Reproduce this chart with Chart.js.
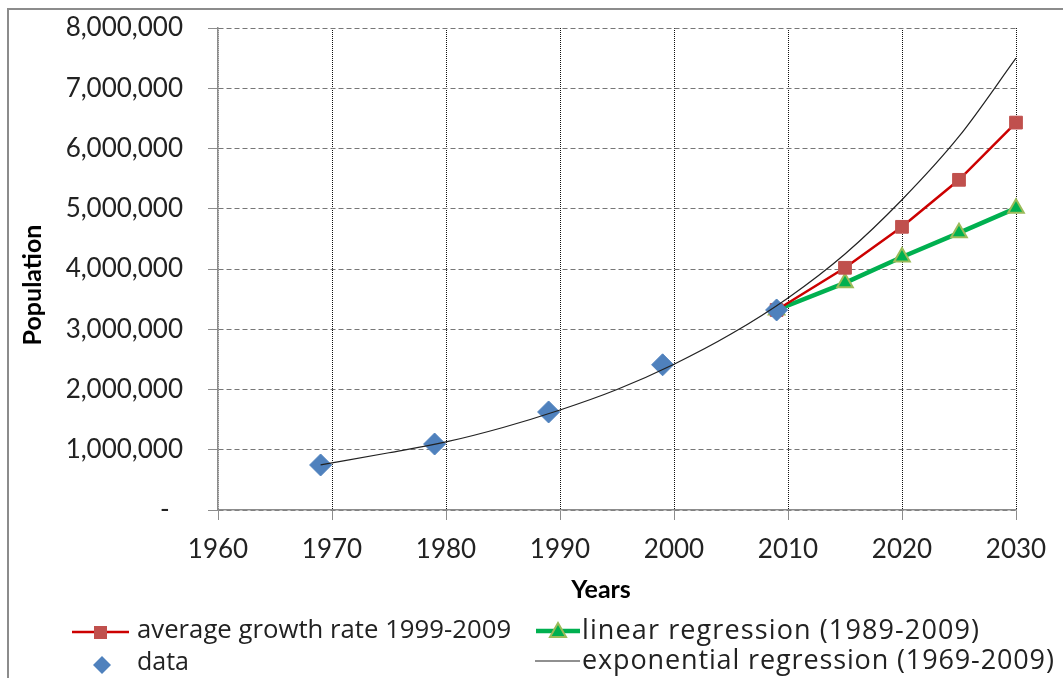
<!DOCTYPE html>
<html>
<head>
<meta charset="utf-8">
<script src="https://cdn.jsdelivr.net/npm/chart.js@4/dist/chart.umd.min.js"></script>
<style>
  html, body { margin: 0; padding: 0; background: #fff; overflow: hidden; }
  #wrap { position: relative; width: 1063px; height: 678px; }
  #frame { position: absolute; left: 7px; top: 8px; width: 1100px; height: 700px;
           border-left: 2px solid #8c8c8c; border-top: 2px solid #8c8c8c; }
  canvas { position: absolute; left: 0; top: 0; }
</style>
</head>
<body>
<div id="wrap">
  <div id="frame"></div>
  <canvas id="g1" width="1063" height="678"></canvas>
</div>
<script>
// observed population
var dataYears = [1969, 1979, 1989, 1999, 2009];
var dataPop = [747000, 1095000, 1627000, 2410000, 3320000];

// projections
var projYears = [2009, 2015, 2020, 2025, 2030];
var growthPop = [3320000, 4020000, 4700000, 5480000, 6430000];
var linearPop = [3320000, 3770000, 4200000, 4600000, 5010000];

// exponential regression curve
var expYears = [1969, 1975, 1980, 1985, 1990, 1995, 2000, 2005, 2010, 2015, 2020, 2025, 2030];
var expPop = [750000, 950000, 1130000, 1370000, 1660000, 2000000, 2420000, 2920000, 3520000, 4250000, 5150000, 6200000, 7500000];

var legendLabels = ['average growth rate 1999-2009', 'linear regression (1989-2009)', 'data', 'exponential regression (1969-2009)'];

function toXY(xs, ys) {
    return xs.map(function(x, i) { return {x: x, y: ys[i]}; });
}

var FONT = 'Lato, "Open Sans", sans-serif';
var LFONT = '"Open Sans", Lato, sans-serif';

// grow the font (max 27px) and then the spacing a bit to reach the width of the Excel text
function fitText(ctx, txt, x, y, w) {
    ctx.letterSpacing = '0px';
    ctx.font = '25px ' + LFONT;
    var m = ctx.measureText(txt).width;
    var size = Math.min(27, 25 * w / m);
    if (size < 25) size = 25;
    ctx.font = size.toFixed(1) + 'px ' + LFONT;
    m = ctx.measureText(txt).width;
    var sp = (w - m) / Math.max(1, txt.length - 1);
    if (sp < 0) sp = 0;
    ctx.letterSpacing = sp.toFixed(2) + 'px';
    ctx.fillText(txt, x, y);
    ctx.letterSpacing = '0px';
}

// axis titles + legend drawn by hand (Excel style)
var extras = {
    id: 'extras',
    afterDraw: function(chart) {
        var ctx = chart.ctx;
        ctx.save();
        ctx.fillStyle = '#000';
        ctx.font = 'bold 25px ' + FONT;
        ctx.textAlign = 'center';
        ctx.textBaseline = 'middle';
        ctx.fillText('Years', 601, 590);
        ctx.save();
        ctx.translate(33, 285);
        ctx.rotate(-Math.PI / 2);
        ctx.fillText('Population', 0, 0);
        ctx.restore();

        ctx.textAlign = 'left';
        ctx.fillStyle = '#222';
        fitText(ctx, legendLabels[0], 137, 631, 374);
        fitText(ctx, legendLabels[1], 582, 631, 397);
        fitText(ctx, legendLabels[2], 137, 663, 50);
        fitText(ctx, legendLabels[3], 582, 661, 472);

        // red sample
        ctx.strokeStyle = '#cc0000'; ctx.lineWidth = 2.5;
        ctx.beginPath(); ctx.moveTo(72, 632); ctx.lineTo(129, 632); ctx.stroke();
        ctx.fillStyle = '#c0504d';
        ctx.fillRect(94, 626, 13, 13);
        // green sample
        ctx.strokeStyle = '#00b050'; ctx.lineWidth = 4.5;
        ctx.beginPath(); ctx.moveTo(536, 631); ctx.lineTo(580, 631); ctx.stroke();
        ctx.fillStyle = '#00b050'; ctx.strokeStyle = '#9bbb59'; ctx.lineWidth = 2;
        ctx.beginPath(); ctx.moveTo(558, 623); ctx.lineTo(566, 637); ctx.lineTo(550, 637); ctx.closePath();
        ctx.fill(); ctx.stroke();
        // diamond sample
        ctx.fillStyle = '#4f81bd';
        ctx.beginPath(); ctx.moveTo(102, 656); ctx.lineTo(111, 665); ctx.lineTo(102, 674); ctx.lineTo(93, 665); ctx.closePath();
        ctx.fill();
        // black sample
        ctx.strokeStyle = '#222'; ctx.lineWidth = 1.2;
        ctx.beginPath(); ctx.moveTo(535, 661); ctx.lineTo(580, 661); ctx.stroke();
        ctx.restore();
    }
};

var ctx1 = document.getElementById('g1');

var myChart = new Chart(ctx1, {
    type: 'scatter',
    data: {
        datasets: [{
            label: legendLabels[3],
            data: toXY(expYears, expPop),
            showLine: true,
            borderColor: '#222',
            borderWidth: 1.2,
            pointRadius: 0,
            cubicInterpolationMode: 'monotone',
            clip: false,
            order: 0
        }, {
            label: legendLabels[2],
            data: toXY(dataYears, dataPop),
            pointStyle: 'rectRot',
            pointRadius: 11,
            backgroundColor: '#4f81bd',
            borderColor: '#4f81bd',
            borderWidth: 1,
            clip: false,
            order: 1
        }, {
            label: legendLabels[0],
            data: toXY(projYears, growthPop),
            showLine: true,
            borderColor: '#cc0000',
            borderWidth: 2.5,
            pointStyle: 'rect',
            pointRadius: 9,
            pointBackgroundColor: '#c0504d',
            pointBorderColor: '#c0504d',
            pointBorderWidth: 1,
            clip: false,
            order: 2
        }, {
            label: legendLabels[1],
            data: toXY(projYears, linearPop),
            showLine: true,
            borderColor: '#00b050',
            borderWidth: 4.5,
            pointStyle: 'triangle',
            pointRadius: 9,
            pointBackgroundColor: '#00b050',
            pointBorderColor: '#9bbb59',
            pointBorderWidth: 2,
            clip: false,
            order: 3
        }]
    },
    options: {
        responsive: false,
        animation: false,
        layout: { padding: { left: 0, top: 28, right: 47, bottom: 0 } },
        plugins: {
            legend: { display: false },
            tooltip: { enabled: false }
        },
        scales: {
            x: {
                type: 'linear',
                min: 1960,
                max: 2030,
                afterFit: function(s) { s.height = 168; s.paddingLeft = 0; s.paddingRight = 0; },
                ticks: {
                    stepSize: 10,
                    padding: 14,
                    color: '#222',
                    font: { family: FONT, size: 26 },
                    callback: function(v) { return String(v); }
                },
                grid: {
                    color: function(c) { return c.index === 0 ? '#8c8c8c' : '#111'; },
                    tickColor: '#8c8c8c',
                    tickLength: 10,
                    tickBorderDash: []
                },
                border: { color: '#8c8c8c', width: 1.5, dash: [1, 1] }
            },
            y: {
                min: 0,
                max: 8000000,
                afterFit: function(s) { s.width = 218; s.paddingTop = 0; s.paddingBottom = 0; },
                ticks: {
                    stepSize: 1000000,
                    padding: 25,
                    color: '#222',
                    font: { family: FONT, size: 26 },
                    callback: function(v) { return v === 0 ? '-  ' : v.toLocaleString('en-US'); }
                },
                grid: {
                    color: '#777',
                    tickColor: '#8c8c8c',
                    tickLength: 10,
                    tickBorderDash: []
                },
                border: { color: '#8c8c8c', width: 1.5, dash: [5, 3] }
            }
        }
    },
    plugins: [extras]
});
</script>
</body>
</html>
